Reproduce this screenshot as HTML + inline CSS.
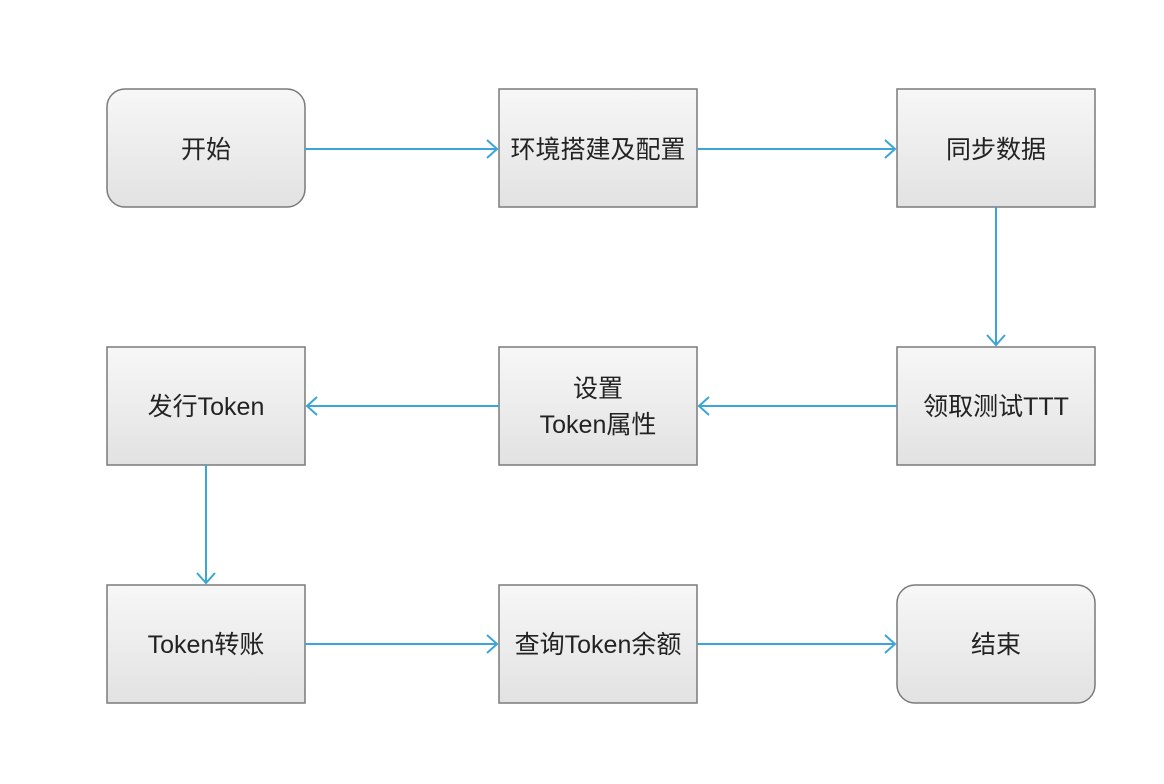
<!DOCTYPE html>
<html><head><meta charset="utf-8"><style>
html,body{margin:0;padding:0;background:#fff;}
svg{display:block}
text{font-family:"Liberation Sans","Noto Sans CJK SC",sans-serif;font-size:25px;fill:#222;text-anchor:middle;}
</style></head><body>
<svg width="1164" height="784" viewBox="0 0 1164 784">
<defs>
<linearGradient id="g" x1="0" y1="0" x2="0" y2="1">
<stop offset="0" stop-color="#f7f7f7"/><stop offset="1" stop-color="#e2e2e2"/>
</linearGradient>
</defs>
<g fill="url(#g)" stroke="#7a7a7a" stroke-width="1.5">
<rect x="107" y="89" width="198" height="118" rx="18"/>
<rect x="499" y="89" width="198" height="118"/>
<rect x="897" y="89" width="198" height="118"/>
<rect x="107" y="347" width="198" height="118"/>
<rect x="499" y="347" width="198" height="118"/>
<rect x="897" y="347" width="198" height="118"/>
<rect x="107" y="585" width="198" height="118"/>
<rect x="499" y="585" width="198" height="118"/>
<rect x="897" y="585" width="198" height="118" rx="18"/>
</g>
<g stroke="#3aa5d8" stroke-width="2" fill="none">
<path d="M305 149H497M487 140l10 9l-10 9"/>
<path d="M697 149H895M885 140l10 9l-10 9"/>
<path d="M996 207V345M987 335l9 10l9-10"/>
<path d="M897 406H699M709 397l-10 9l10 9"/>
<path d="M499 406H307M317 397l-10 9l10 9"/>
<path d="M206 465V583M197 573l9 10l9-10"/>
<path d="M305 644H497M487 635l10 9l-10 9"/>
<path d="M697 644H895M885 635l10 9l-10 9"/>
</g>
<text x="206" y="158">开始</text>
<text x="598" y="158">环境搭建及配置</text>
<text x="996" y="158">同步数据</text>
<text x="206" y="415">发行Token</text>
<text x="598" y="397">设置</text>
<text x="598" y="433">Token属性</text>
<text x="996" y="415">领取测试TTT</text>
<text x="206" y="653">Token转账</text>
<text x="598" y="653">查询Token余额</text>
<text x="996" y="653">结束</text>
</svg>
</body></html>
